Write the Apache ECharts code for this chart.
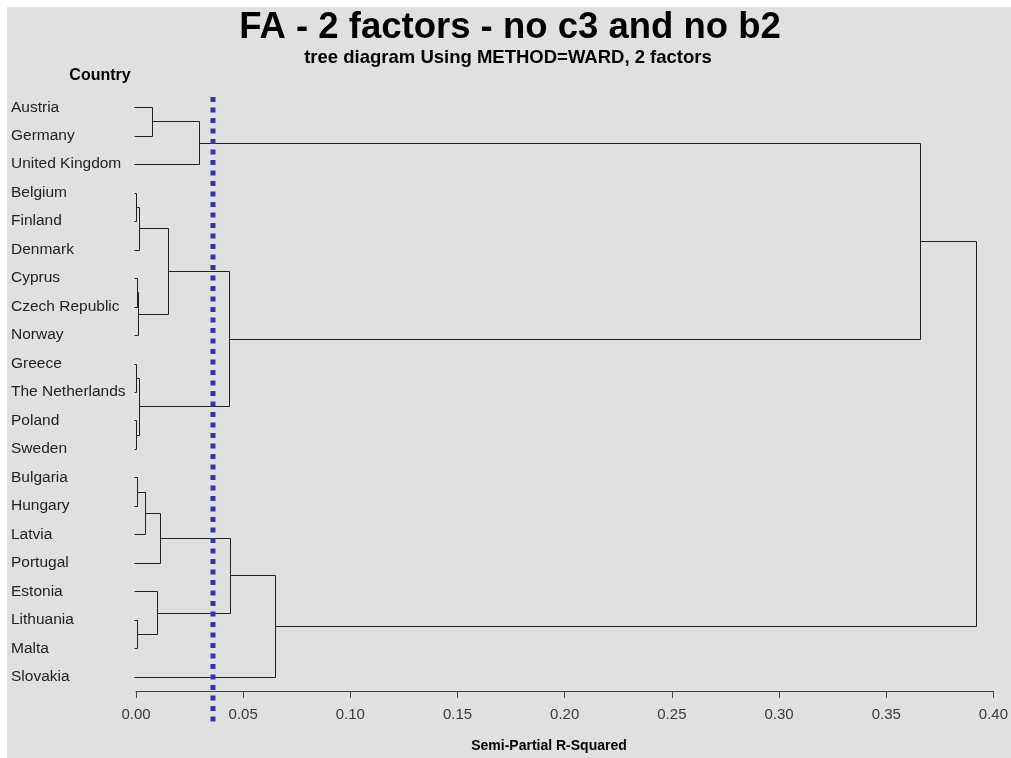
<!DOCTYPE html>
<html><head><meta charset="utf-8">
<script src="https://cdn.jsdelivr.net/npm/echarts@6/dist/echarts.min.js"></script>
<style>html,body{margin:0;padding:0;background:#fff}#c{width:1011px;height:758px}</style>
</head><body><div id="c"></div>
<script>
// Leaves (top to bottom)
const countries = ["Austria","Germany","United Kingdom","Belgium","Finland","Denmark","Cyprus","Czech Republic","Norway","Greece","The Netherlands","Poland","Sweden","Bulgaria","Hungary","Latvia","Portugal","Estonia","Lithuania","Malta","Slovakia"];
// Merges: node ids 0..20 are leaves, merge k creates node 21+k
const mergeLeft   = [3, 6, 9, 11, 13, 18, 21, 22, 23, 25, 0, 17, 30, 27, 31, 34, 33, 37, 35, 39];
const mergeRight  = [4, 7, 10, 12, 14, 19, 5, 8, 24, 15, 1, 26, 16, 28, 2, 29, 32, 20, 36, 38];
const mergeHeight = [0.0002, 0.0003, 0.0002, 0.0002, 0.0003, 0.0003, 0.0015, 0.0010, 0.0015, 0.0042, 0.0075, 0.0099, 0.0112, 0.0150, 0.0293, 0.0432, 0.0437, 0.0648, 0.3658, 0.3919];
// Cut-off reference (dotted line)
const cutoff = 0.0357;
const xTickValues = [0, 0.05, 0.10, 0.15, 0.20, 0.25, 0.30, 0.35, 0.40];

const nodeY = countries.map((_, i) => i);
const nodeH = countries.map(() => 0);
const links = [];
for (let k = 0; k < mergeLeft.length; k++) {
  const a = mergeLeft[k], b = mergeRight[k], h = mergeHeight[k];
  links.push([nodeH[a], nodeY[a], nodeH[b], nodeY[b], h]);
  nodeY.push((nodeY[a] + nodeY[b]) / 2);
  nodeH.push(h);
}

const chart = echarts.init(document.getElementById('c'), null, {renderer: 'canvas'});
const FONT = '"Liberation Sans", Arial, sans-serif';
const px = v => Math.round(v) + 0.5;

chart.setOption({
  backgroundColor: '#ffffff',
  animation: false,
  grid: {left: 136, right: 14, top: 93, bottom: 67, containLabel: false},
  xAxis: {
    type: 'value', min: xTickValues[0], max: xTickValues[xTickValues.length - 1], interval: 0.05,
    position: 'bottom',
    axisLine: {show: true, onZero: false, lineStyle: {color: '#444', width: 1}},
    axisTick: {show: true, length: 7, lineStyle: {color: '#444'}},
    splitLine: {show: false},
    axisLabel: {color: '#3a3a3a', fontFamily: FONT, fontSize: 15, margin: 16,
      formatter: v => v.toFixed(2)}
  },
  yAxis: [{
    type: 'category', data: countries, inverse: true,
    axisLine: {show: false}, axisTick: {show: false}, splitLine: {show: false},
    axisLabel: {align: 'left', margin: 125, color: '#222', fontFamily: FONT, fontSize: 15.5}
  }, {
    type: 'value', min: -0.5, max: 20.5, inverse: true, show: false
  }],
  graphic: [
    {type: 'rect', z: -100, shape: {x: 7, y: 7, width: 1004, height: 751}, style: {fill: '#e0e0e0'}},
    {type: 'text', z: 100, x: 510, y: 28, style: {text: 'FA - 2 factors - no c3 and no b2', font: 'bold 36.5px ' + FONT, fill: '#000', textAlign: 'center', textVerticalAlign: 'middle'}},
    {type: 'text', z: 100, x: 508, y: 58, style: {text: 'tree diagram Using METHOD=WARD, 2 factors', font: 'bold 18.5px ' + FONT, fill: '#000', textAlign: 'center', textVerticalAlign: 'middle'}},
    {type: 'text', z: 100, x: 100, y: 76, style: {text: 'Country', font: 'bold 16px ' + FONT, fill: '#000', textAlign: 'center', textVerticalAlign: 'middle'}},
    {type: 'text', z: 100, x: 549, y: 746, style: {text: 'Semi-Partial R-Squared', font: 'bold 14px ' + FONT, fill: '#000', textAlign: 'center', textVerticalAlign: 'middle'}}
  ],
  series: [{
    type: 'custom', xAxisIndex: 0, yAxisIndex: 1, clip: false, z: 5,
    data: links,
    encode: {x: [0, 2, 4], y: [1, 3]},
    renderItem: (params, api) => {
      const p1 = api.coord([api.value(0), api.value(1)]);
      const p2 = api.coord([api.value(4), api.value(1)]);
      const p3 = api.coord([api.value(4), api.value(3)]);
      const p4 = api.coord([api.value(2), api.value(3)]);
      const s1 = api.value(0) === 0 ? 2 : 0;
      const s4 = api.value(2) === 0 ? 2 : 0;
      return {type: 'polyline',
        shape: {points: [[px(p1[0]) - s1, px(p1[1])], [px(p2[0]), px(p2[1])], [px(p3[0]), px(p3[1])], [px(p4[0]) - s4, px(p4[1])]]},
        style: {stroke: '#222', lineWidth: 1, fill: null}};
    }
  }, {
    type: 'custom', xAxisIndex: 0, yAxisIndex: 1, clip: false, z: 10,
    data: [[cutoff, -0.36, 21.58]],
    encode: {x: 0, y: [1, 2]},
    renderItem: (params, api) => {
      const a = api.coord([api.value(0), api.value(1)]);
      const b = api.coord([api.value(0), api.value(2)]);
      return {type: 'line', shape: {x1: Math.round(a[0]), y1: a[1], x2: Math.round(b[0]), y2: b[1]},
        style: {stroke: '#3535a8', lineWidth: 5, lineDash: [5, 5.5]}};
    }
  }]
});
</script>
</body></html>
